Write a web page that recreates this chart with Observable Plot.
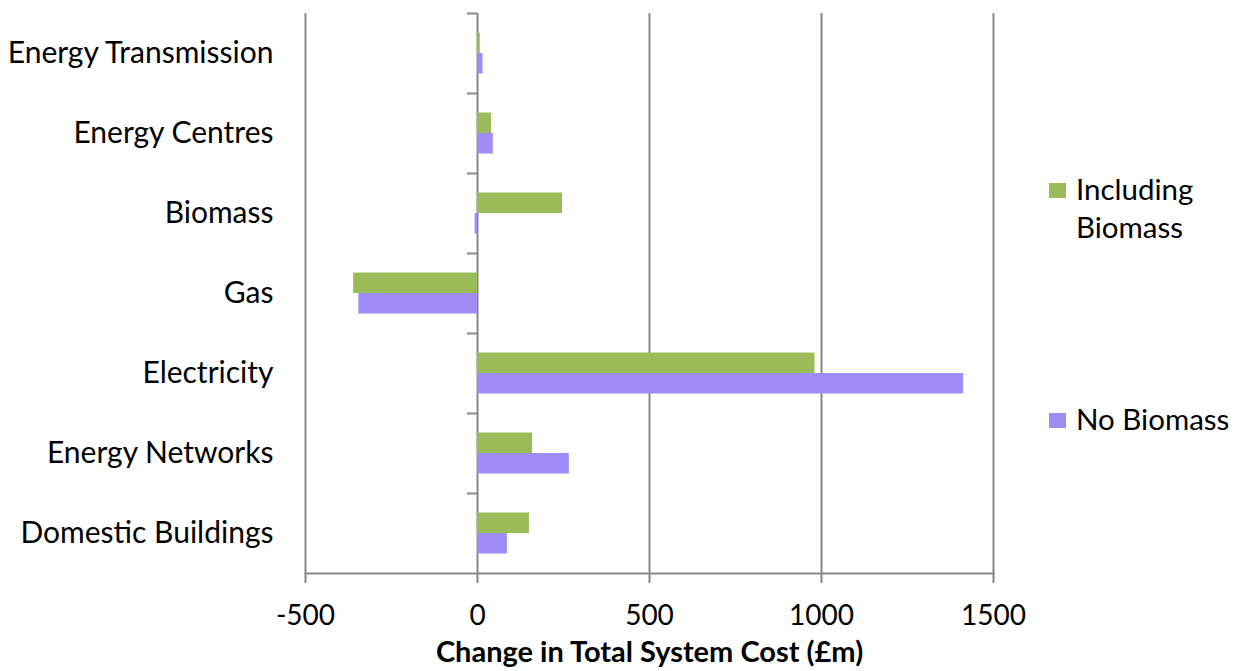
<!DOCTYPE html>
<html>
<head>
<meta charset="utf-8">
<script src="https://cdn.jsdelivr.net/npm/d3@7"></script>
<script src="https://cdn.jsdelivr.net/npm/@observablehq/plot@0.6"></script>
<style>
  html, body { margin: 0; padding: 0; background: #fff; }
  #chart { position: relative; width: 1234px; height: 671px; font-family: Lato, "Open Sans", sans-serif; }
  .legend { position: absolute; left: 1049px; font-size: 29.5px; color: #000; line-height: 38px; }
  .legend .sw { position: absolute; left: 0; width: 17px; height: 15px; }
  .legend .lbl { position: absolute; left: 27px; white-space: nowrap; }
</style>
</head>
<body>
<div id="chart"></div>
<script>
// Sectors, top to bottom
const categories = [
  "Energy Transmission",
  "Energy Centres",
  "Biomass",
  "Gas",
  "Electricity",
  "Energy Networks",
  "Domestic Buildings"
];
// Change in total system cost (£m) per scenario
const includingBiomass = [8, 41, 247, -360, 981, 160, 151];
const noBiomass = [16, 46, -7, -345, 1413, 267, 87];
const seriesNames = ["Including Biomass", "No Biomass"];
const seriesColors = ["#9bbb59", "#9f8cf5"];
const xTicks = [-500, 0, 500, 1000, 1500];
const axisTitle = "Change in Total System Cost (£m)";

const rows = categories.map((c, i) => ({category: c, inc: includingBiomass[i], no: noBiomass[i]}));

const gridColor = "#888888";
const font = "Lato, 'Open Sans', sans-serif";

const plot = Plot.plot({
  width: 1234,
  height: 671,
  marginLeft: 305,
  marginRight: 241,
  marginTop: 13,
  marginBottom: 98,
  style: {fontFamily: font, fontSize: "30px", color: "#000", background: "#fff"},
  x: {domain: [-500, 1500]},
  y: {domain: categories, padding: 0},
  marks: [
    // vertical gridlines, extended below the axis as tick marks
    Plot.ruleX(xTicks, {stroke: gridColor, strokeWidth: 2, insetBottom: -10}),
    Plot.frame({anchor: "bottom", stroke: gridColor, strokeWidth: 2}),
    // category boundary ticks on the zero line
    Plot.ruleY(categories, {y: d => d, x1: 0, x2: 0, insetLeft: -10, dy: -40, stroke: gridColor, strokeWidth: 2}),
    Plot.barX(rows, {y: "category", x: "inc", fill: seriesColors[0], insetTop: 19.5, insetBottom: 40}),
    Plot.barX(rows, {y: "category", x: "no", fill: seriesColors[1], insetTop: 40, insetBottom: 19.5}),
    Plot.axisY({tickSize: 0, tickPadding: 32, fontSize: 30, label: null}),
    Plot.axisX({ticks: xTicks, tickFormat: d => String(d).replace("\u2212", "-"), tickSize: 0, tickPadding: 32, fontSize: 28, label: null}),
    Plot.text([axisTitle], {frameAnchor: "bottom", dy: 88, fontSize: 29, fontWeight: "bold", text: d => d})
  ]
});
const host = document.getElementById("chart");
host.appendChild(plot);

// legend on the right
const legendItems = [
  {name: seriesNames[0], color: seriesColors[0], top: 170, swTop: 13, lines: ["Including", "Biomass"]},
  {name: seriesNames[1], color: seriesColors[1], top: 400, swTop: 13, lines: ["No Biomass"]}
];
for (const item of legendItems) {
  const div = document.createElement("div");
  div.className = "legend";
  div.style.top = item.top + "px";
  const sw = document.createElement("div");
  sw.className = "sw";
  sw.style.background = item.color;
  sw.style.top = item.swTop + "px";
  div.appendChild(sw);
  const lbl = document.createElement("div");
  lbl.className = "lbl";
  lbl.innerHTML = item.lines.join("<br>");
  div.appendChild(lbl);
  host.appendChild(div);
}
</script>
</body>
</html>
